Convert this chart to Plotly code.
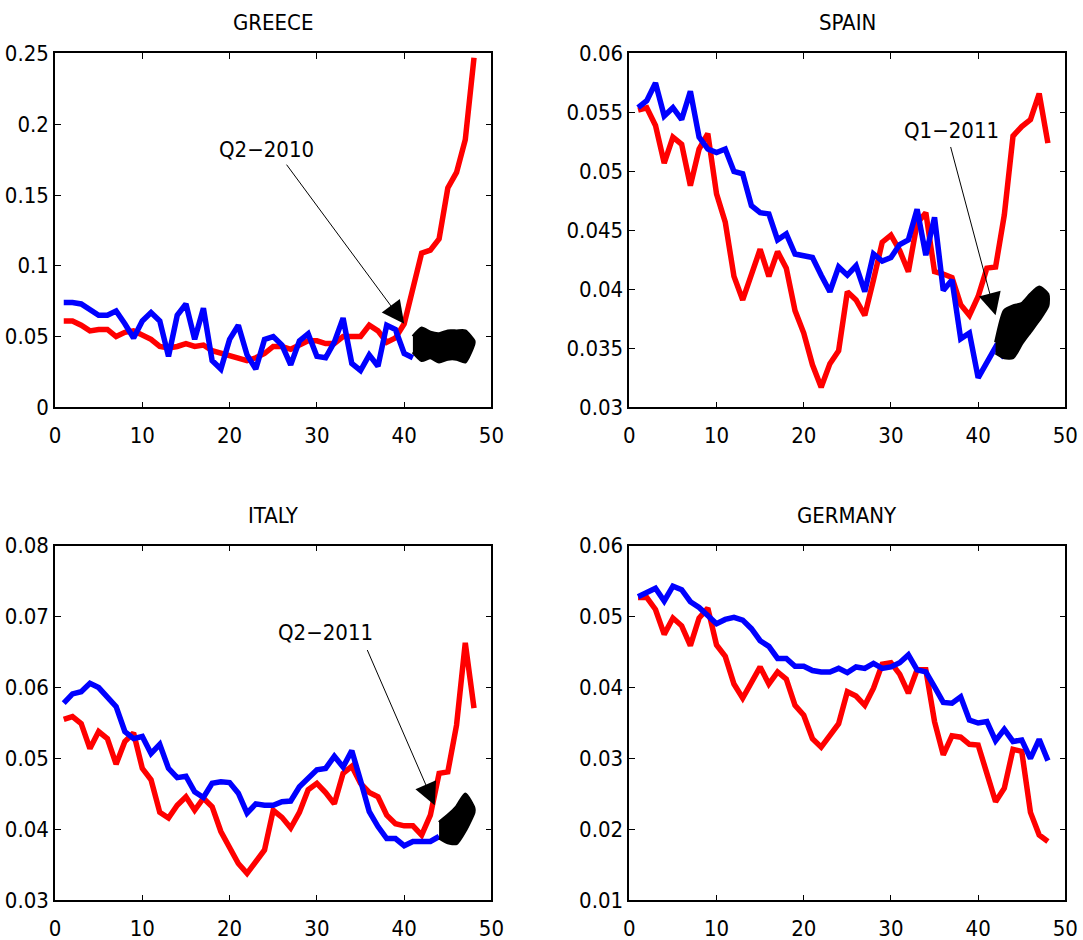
import plotly.graph_objects as go

x_all = list(range(1, 49))

greece_red = [0.061, 0.061, 0.058, 0.054, 0.055, 0.055, 0.050, 0.053, 0.054, 0.051,
              0.048, 0.043, 0.042, 0.043, 0.045, 0.043, 0.044, 0.040, 0.038, 0.037,
              0.035, 0.033, 0.035, 0.038, 0.043, 0.043, 0.041, 0.044, 0.047, 0.047,
              0.045, 0.045, 0.050, 0.050, 0.050, 0.058, 0.054, 0.046, 0.049, 0.059,
              0.085, 0.109, 0.111, 0.119, 0.155, 0.166, 0.189, 0.247]
greece_blue = [0.074, 0.074, 0.073, 0.069, 0.065, 0.065, 0.068, 0.059, 0.049, 0.061,
               0.067, 0.061, 0.036, 0.065, 0.073, 0.048, 0.070, 0.033, 0.027, 0.048,
               0.058, 0.037, 0.027, 0.048, 0.050, 0.044, 0.030, 0.047, 0.052, 0.036,
               0.035, 0.046, 0.063, 0.031, 0.026, 0.037, 0.029, 0.058, 0.055, 0.038,
               0.035]
greece_band_x = [41, 42, 43, 44, 45, 46, 47, 48]
greece_band_hi = [0.050, 0.056, 0.053, 0.052, 0.054, 0.054, 0.054, 0.047]
greece_band_lo = [0.039, 0.033, 0.035, 0.032, 0.034, 0.034, 0.032, 0.045]

spain_red = [0.0552, 0.0554, 0.0539, 0.0507, 0.0529, 0.0523, 0.0488, 0.0519, 0.0532, 0.0481,
             0.0457, 0.0411, 0.0391, 0.0413, 0.0434, 0.0411, 0.0432, 0.0418, 0.0382, 0.0363,
             0.0336, 0.0317, 0.0337, 0.0348, 0.0398, 0.0391, 0.0378, 0.0408, 0.0440, 0.0446,
             0.0433, 0.0415, 0.0456, 0.0465, 0.0415, 0.0413, 0.0410, 0.0387, 0.0378, 0.0394,
             0.0418, 0.0419, 0.0463, 0.0530, 0.0538, 0.0544, 0.0566, 0.0524]
spain_blue = [0.0554, 0.0560, 0.0575, 0.0547, 0.0554, 0.0544, 0.0568, 0.0529, 0.0519, 0.0516,
              0.0519, 0.0500, 0.0498, 0.0471, 0.0465, 0.0464, 0.0442, 0.0447, 0.0430, 0.0429,
              0.0427, 0.0412, 0.0398, 0.0419, 0.0412, 0.0420, 0.0398, 0.0430, 0.0424, 0.0427,
              0.0438, 0.0442, 0.0468, 0.0429, 0.0461, 0.0399, 0.0408, 0.0358, 0.0363, 0.0325,
              0.0337, 0.0351, 0.0342]
spain_band_x = [42, 43, 44, 45, 46, 47, 48]
spain_band_hi = [0.0355, 0.0382, 0.0386, 0.0388, 0.0396, 0.0402, 0.0396]
spain_band_lo = [0.0346, 0.0342, 0.0342, 0.0354, 0.0364, 0.0374, 0.0386]

italy_red = [0.0555, 0.0559, 0.0549, 0.0514, 0.0538, 0.0528, 0.0492, 0.0524, 0.0536, 0.0486,
             0.0470, 0.0424, 0.0416, 0.0434, 0.0446, 0.0427, 0.0444, 0.0432, 0.0397, 0.0373,
             0.0352, 0.0338, 0.0355, 0.0371, 0.0427, 0.0417, 0.0402, 0.0424, 0.0456, 0.0465,
             0.0452, 0.0436, 0.0479, 0.0489, 0.0465, 0.0452, 0.0446, 0.0420, 0.0408, 0.0405,
             0.0405, 0.0392, 0.0420, 0.0479, 0.0481, 0.0547, 0.0663, 0.0571]
italy_blue = [0.0578, 0.0591, 0.0594, 0.0606, 0.0600, 0.0587, 0.0573, 0.0538, 0.0528, 0.0531,
              0.0507, 0.0520, 0.0486, 0.0473, 0.0475, 0.0453, 0.0445, 0.0465, 0.0467, 0.0466,
              0.0451, 0.0423, 0.0436, 0.0434, 0.0434, 0.0439, 0.0440, 0.0460, 0.0473, 0.0484,
              0.0486, 0.0503, 0.0488, 0.0511, 0.0469, 0.0425, 0.0404, 0.0387, 0.0387, 0.0377,
              0.0383, 0.0383, 0.0383, 0.0390]
italy_band_x = [44, 45, 46, 47, 48]
italy_band_hi = [0.0410, 0.0420, 0.0432, 0.0450, 0.0430]
italy_band_lo = [0.0388, 0.0381, 0.0380, 0.0398, 0.0424]

germany_red = [0.0527, 0.0527, 0.0510, 0.0475, 0.0498, 0.0487, 0.0459, 0.0498, 0.0512, 0.0460,
               0.0444, 0.0405, 0.0385, 0.0408, 0.0429, 0.0405, 0.0422, 0.0412, 0.0375, 0.0361,
               0.0328, 0.0316, 0.0333, 0.0349, 0.0394, 0.0388, 0.0375, 0.0399, 0.0433, 0.0435,
               0.0419, 0.0392, 0.0425, 0.0425, 0.0352, 0.0305, 0.0332, 0.0330, 0.0320, 0.0319,
               0.0279, 0.0239, 0.0258, 0.0313, 0.0310, 0.0224, 0.0192, 0.0183]
germany_blue = [0.0528, 0.0534, 0.0540, 0.0522, 0.0543, 0.0538, 0.0521, 0.0513, 0.0502, 0.0490,
                0.0496, 0.0499, 0.0495, 0.0483, 0.0466, 0.0458, 0.0441, 0.0441, 0.0430, 0.0430,
                0.0424, 0.0422, 0.0422, 0.0427, 0.0421, 0.0429, 0.0427, 0.0434, 0.0427, 0.0429,
                0.0435, 0.0446, 0.0425, 0.0422, 0.0401, 0.0379, 0.0378, 0.0387, 0.0354, 0.0350,
                0.0352, 0.0325, 0.0341, 0.0324, 0.0326, 0.0300, 0.0327, 0.0297]

titles = ["GREECE", "SPAIN", "ITALY", "GERMANY"]
x_ticks = [0, 10, 20, 30, 40, 50]
y_ticks = [
    [0, 0.05, 0.1, 0.15, 0.2, 0.25],
    [0.03, 0.035, 0.04, 0.045, 0.05, 0.055, 0.06],
    [0.03, 0.04, 0.05, 0.06, 0.07, 0.08],
    [0.01, 0.02, 0.03, 0.04, 0.05, 0.06],
]
y_tick_text = [
    ["0", "0.05", "0.1", "0.15", "0.2", "0.25"],
    ["0.03", "0.035", "0.04", "0.045", "0.05", "0.055", "0.06"],
    ["0.03", "0.04", "0.05", "0.06", "0.07", "0.08"],
    ["0.01", "0.02", "0.03", "0.04", "0.05", "0.06"],
]
# annotation labels, arrow tips and tails (data units)
ann_text = ["Q2\u22122010", "Q1\u22122011", "Q2\u22122011"]
ann_text_pos = [(24.2, 0.182), (36.9, 0.0535), (31.0, 0.0677)]
ann_tail = [(26.4, 0.1725), (36.8, 0.0522), (35.7, 0.0655)]
ann_tip = [(40.0, 0.059), (42.0, 0.0378), (43.5, 0.0434)]

FONT = "Liberation Sans Narrow, DejaVu Sans Condensed, Arial Narrow, Arial, sans-serif"
RED = "#ff0000"
BLUE = "#0000ff"

panels = [
    (greece_red, greece_blue, (greece_band_x, greece_band_lo, greece_band_hi)),
    (spain_red, spain_blue, (spain_band_x, spain_band_lo, spain_band_hi)),
    (italy_red, italy_blue, (italy_band_x, italy_band_lo, italy_band_hi)),
    (germany_red, germany_blue, None),
]

W, H = 1083, 940
x_domains = [(0.0508, 0.4538), (0.5811, 0.9837), (0.0508, 0.4538), (0.5811, 0.9837)]
y_domains = [(0.5667, 0.9431), (0.5667, 0.9431), (0.0422, 0.4195), (0.0422, 0.4195)]
title_y = [0.9760, 0.9760, 0.4516, 0.4516]

fig = go.Figure()
layout = {}
annotations = []
for i, (red, blue, band) in enumerate(panels):
    n = "" if i == 0 else str(i + 1)
    xa, ya = "x" + n, "y" + n
    fig.add_trace(go.Scatter(x=x_all[:len(red)], y=red, mode="lines",
                             line=dict(color=RED, width=5.5), xaxis=xa, yaxis=ya,
                             showlegend=False, hoverinfo="skip"))
    fig.add_trace(go.Scatter(x=x_all[:len(blue)], y=blue, mode="lines",
                             line=dict(color=BLUE, width=5.5), xaxis=xa, yaxis=ya,
                             showlegend=False, hoverinfo="skip"))
    if band is not None:
        bx, blo, bhi = band
        fig.add_trace(go.Scatter(x=list(bx) + list(bx)[::-1],
                                 y=list(bhi) + list(blo)[::-1],
                                 mode="lines", fill="toself", fillcolor="black",
                                 line=dict(color="black", width=3, shape="spline", smoothing=0.6),
                                 xaxis=xa, yaxis=ya, showlegend=False, hoverinfo="skip"))
    yt = y_ticks[i]
    layout["xaxis" + n] = dict(domain=list(x_domains[i]), range=[0, 50], tickvals=x_ticks,
                               ticks="inside", ticklen=6, tickwidth=1, tickcolor="black",
                               showline=True, linecolor="black", linewidth=1.5, mirror="ticks",
                               showgrid=False, zeroline=False, anchor=ya, automargin=False,
                               tickfont=dict(family=FONT, size=22, color="black"),
                               ticklabelstandoff=8)
    layout["yaxis" + n] = dict(domain=list(y_domains[i]), range=[yt[0], yt[-1]],
                               tickvals=yt, ticktext=y_tick_text[i],
                               ticks="inside", ticklen=6, tickwidth=1, tickcolor="black",
                               showline=True, linecolor="black", linewidth=1.5, mirror="ticks",
                               showgrid=False, zeroline=False, anchor=xa, automargin=False,
                               tickfont=dict(family=FONT, size=22, color="black"),
                               ticklabelstandoff=0)
    xd = x_domains[i]
    annotations.append(dict(text=titles[i], x=(xd[0] + xd[1]) / 2, y=title_y[i],
                            xref="paper", yref="paper", showarrow=False,
                            xanchor="center", yanchor="middle",
                            font=dict(family=FONT, size=22, color="black")))
    if i < 3:
        tx, ty = ann_text_pos[i]
        annotations.append(dict(text=ann_text[i], x=tx, y=ty, xref=xa, yref=ya,
                                showarrow=False, xanchor="center", yanchor="middle",
                                font=dict(family=FONT, size=22, color="black")))
        (ax_, ay_), (px_, py_) = ann_tail[i], ann_tip[i]
        annotations.append(dict(text="", x=px_, y=py_, xref=xa, yref=ya,
                                ax=ax_, ay=ay_, axref=xa, ayref=ya,
                                showarrow=True, arrowhead=2, arrowsize=4.5,
                                arrowwidth=1, arrowcolor="black", standoff=0))

fig.update_layout(**layout)
fig.update_layout(annotations=annotations, width=W, height=H,
                  margin=dict(l=0, r=0, t=0, b=0, autoexpand=False), plot_bgcolor="white",
                  paper_bgcolor="white", showlegend=False)
fig.write_html("out.html", config={"displayModeBar": False},
               post_script="document.body.style.margin='0px';document.body.style.overflow='hidden';")
